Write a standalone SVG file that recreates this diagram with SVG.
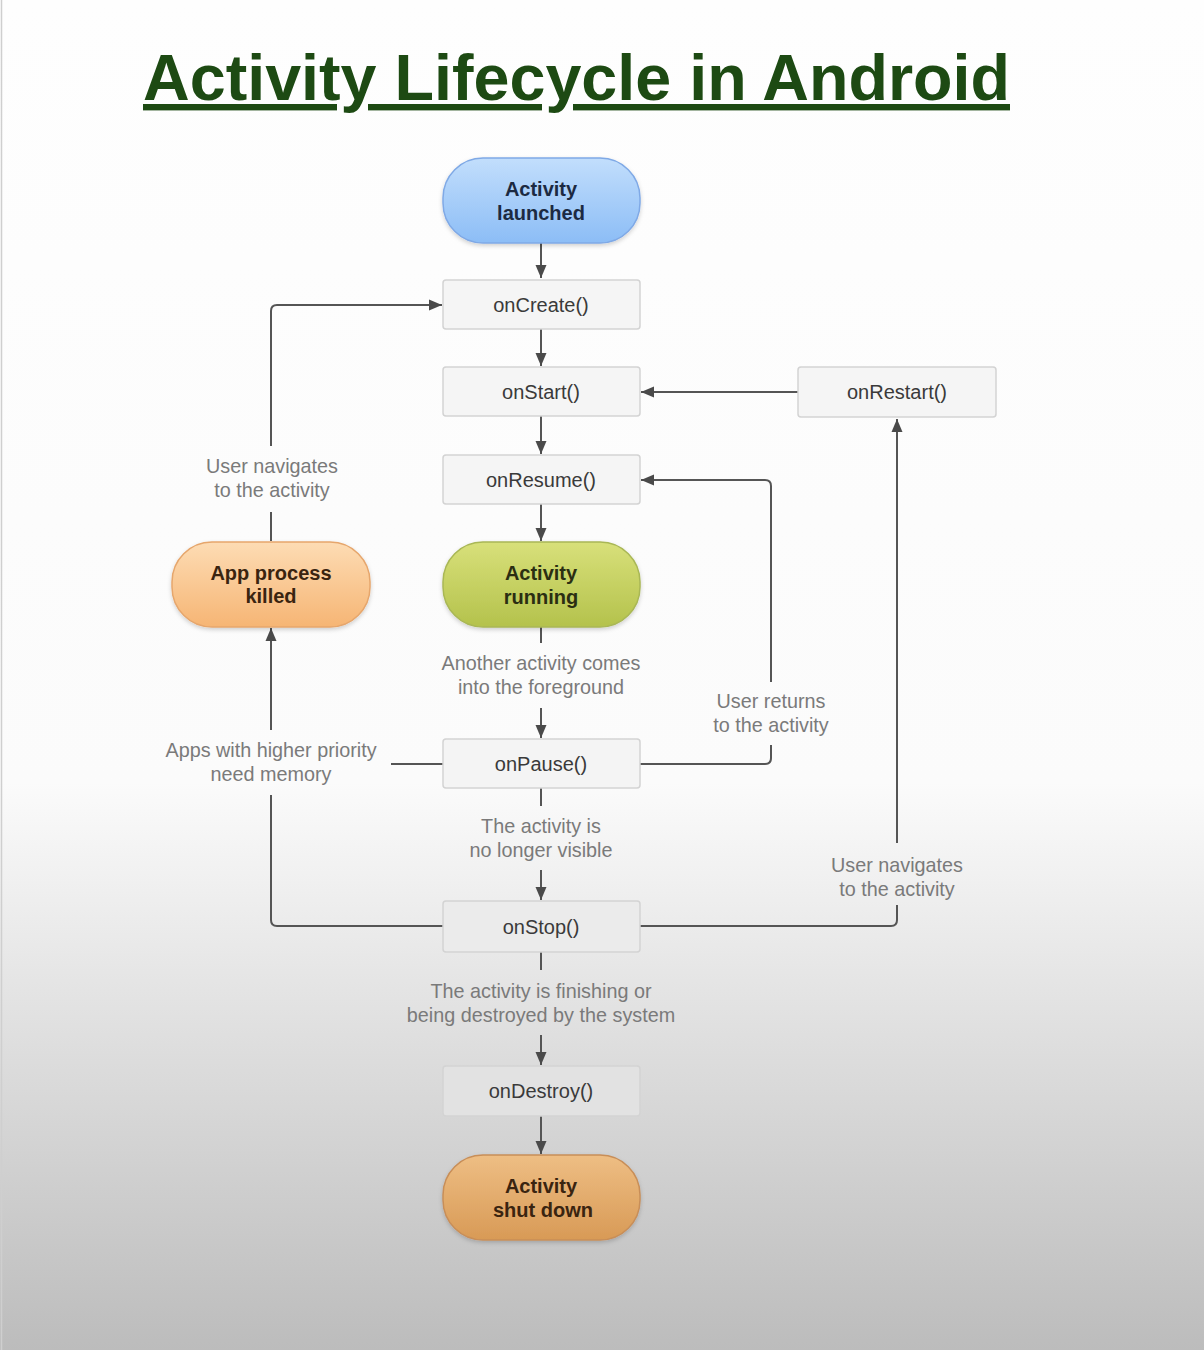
<svg xmlns="http://www.w3.org/2000/svg" width="1204" height="1350" viewBox="0 0 1204 1350">
  <defs>
    <linearGradient id="bg" x1="0" y1="0" x2="0" y2="1">
      <stop offset="0" stop-color="#fefefe"/>
      <stop offset="0.58" stop-color="#fbfbfb"/>
      <stop offset="0.8" stop-color="#dadada"/>
      <stop offset="1" stop-color="#bcbcbc"/>
    </linearGradient>
    <linearGradient id="gBlue" x1="0" y1="0" x2="0" y2="1">
      <stop offset="0" stop-color="#c2defc"/>
      <stop offset="1" stop-color="#8cbdf6"/>
    </linearGradient>
    <linearGradient id="gGreen" x1="0" y1="0" x2="0" y2="1">
      <stop offset="0" stop-color="#d8e07a"/>
      <stop offset="1" stop-color="#b4c24c"/>
    </linearGradient>
    <linearGradient id="gOrange" x1="0" y1="0" x2="0" y2="1">
      <stop offset="0" stop-color="#fddcb4"/>
      <stop offset="1" stop-color="#f6b574"/>
    </linearGradient>
    <linearGradient id="gBrown" x1="0" y1="0" x2="0" y2="1">
      <stop offset="0" stop-color="#eebe84"/>
      <stop offset="1" stop-color="#d89a56"/>
    </linearGradient>
    <filter id="shadow" x="-10%" y="-10%" width="120%" height="130%">
      <feDropShadow dx="0" dy="2" stdDeviation="2" flood-color="#000" flood-opacity="0.18"/>
    </filter>
    <marker id="arrow" markerUnits="userSpaceOnUse" markerWidth="13" markerHeight="12" refX="13" refY="6" orient="auto">
      <path d="M0,0.5 L13,6 L0,11.5 z" fill="#4a4a4a"/>
    </marker>
  </defs>
  <style>
    .title { font-family: "Liberation Sans", Arial, sans-serif; font-weight: bold; font-size: 64px; fill: #1d4a13; }
    .box { stroke: #d3d3d3; stroke-width: 1.5; }
    .mtext { font-family: "Liberation Sans", Arial, sans-serif; font-size: 20px; fill: #3a3a3a; text-anchor: middle; }
    .ptext { font-family: "Liberation Sans", Arial, sans-serif; font-size: 20px; font-weight: bold; text-anchor: middle; }
    .label { font-family: "Liberation Sans", Arial, sans-serif; font-size: 19.8px; fill: #7a7a7a; text-anchor: middle; }
    .conn { fill: none; stroke: #555; stroke-width: 2; }
  </style>

  <rect x="0" y="0" width="1204" height="1350" fill="url(#bg)"/>
  <line x1="1.5" y1="0" x2="1.5" y2="1350" stroke="#cfcfcf" stroke-width="1.5"/>

  <text class="title" x="143" y="100" text-decoration="underline" textLength="867" lengthAdjust="spacingAndGlyphs">Activity Lifecycle in Android</text>

  <g id="connectors">
    <path class="conn" d="M541,243 V278" marker-end="url(#arrow)"/>
    <path class="conn" d="M541,329 V366" marker-end="url(#arrow)"/>
    <path class="conn" d="M541,416 V454" marker-end="url(#arrow)"/>
    <path class="conn" d="M541,504 V541" marker-end="url(#arrow)"/>
    <path class="conn" d="M541,627 V643"/>
    <path class="conn" d="M541,708 V738" marker-end="url(#arrow)"/>
    <path class="conn" d="M541,788 V806"/>
    <path class="conn" d="M541,870 V900" marker-end="url(#arrow)"/>
    <path class="conn" d="M541,952 V970"/>
    <path class="conn" d="M541,1035 V1065" marker-end="url(#arrow)"/>
    <path class="conn" d="M541,1116 V1154" marker-end="url(#arrow)"/>
    <path class="conn" d="M798,392 H641" marker-end="url(#arrow)"/>
    <path class="conn" d="M640,764 H765 Q771,764 771,758 V745"/>
    <path class="conn" d="M771,682 V486 Q771,480 765,480 H641" marker-end="url(#arrow)"/>
    <path class="conn" d="M443,764 H391"/>
    <path class="conn" d="M271,730 V628" marker-end="url(#arrow)"/>
    <path class="conn" d="M271,795 V920 Q271,926 277,926 H443"/>
    <path class="conn" d="M271,541 V512"/>
    <path class="conn" d="M271,446 V311 Q271,305 277,305 H442" marker-end="url(#arrow)"/>
    <path class="conn" d="M640,926 H891 Q897,926 897,920 V905"/>
    <path class="conn" d="M897,843 V419" marker-end="url(#arrow)"/>
  </g>

  <g id="labels">
    <text class="label" x="272" y="473">User navigates</text>
    <text class="label" x="272" y="497">to the activity</text>
    <text class="label" x="541" y="670">Another activity comes</text>
    <text class="label" x="541" y="694">into the foreground</text>
    <text class="label" x="771" y="708">User returns</text>
    <text class="label" x="771" y="732">to the activity</text>
    <text class="label" x="271" y="757">Apps with higher priority</text>
    <text class="label" x="271" y="781">need memory</text>
    <text class="label" x="541" y="833">The activity is</text>
    <text class="label" x="541" y="857">no longer visible</text>
    <text class="label" x="897" y="872">User navigates</text>
    <text class="label" x="897" y="896">to the activity</text>
    <text class="label" x="541" y="998">The activity is finishing or</text>
    <text class="label" x="541" y="1022">being destroyed by the system</text>
  </g>

  <g id="activity-launched">
    <rect x="443" y="158" width="197" height="85" rx="40" ry="40" fill="url(#gBlue)" stroke="#7fa9e6" stroke-width="1.5" filter="url(#shadow)"/>
    <text class="ptext" x="541" y="196" fill="#1c2a42">Activity</text>
    <text class="ptext" x="541" y="220" fill="#1c2a42">launched</text>
  </g>
  <g id="onCreate">
    <rect class="box" x="443" y="280" width="197" height="49" rx="3" fill="#f5f5f5"/>
    <text class="mtext" x="541" y="312">onCreate()</text>
  </g>
  <g id="onStart">
    <rect class="box" x="443" y="367" width="197" height="49" rx="3" fill="#f5f5f5"/>
    <text class="mtext" x="541" y="399">onStart()</text>
  </g>
  <g id="onRestart">
    <rect class="box" x="798" y="367" width="198" height="50" rx="3" fill="#f5f5f5"/>
    <text class="mtext" x="897" y="399">onRestart()</text>
  </g>
  <g id="onResume">
    <rect class="box" x="443" y="455" width="197" height="49" rx="3" fill="#f5f5f5"/>
    <text class="mtext" x="541" y="487">onResume()</text>
  </g>
  <g id="activity-running">
    <rect x="443" y="542" width="197" height="85" rx="40" ry="40" fill="url(#gGreen)" stroke="#a9b755" stroke-width="1.5" filter="url(#shadow)"/>
    <text class="ptext" x="541" y="580" fill="#2b2e12">Activity</text>
    <text class="ptext" x="541" y="604" fill="#2b2e12">running</text>
  </g>
  <g id="app-process-killed">
    <rect x="172" y="542" width="198" height="85" rx="40" ry="40" fill="url(#gOrange)" stroke="#e6a66c" stroke-width="1.5" filter="url(#shadow)"/>
    <text class="ptext" x="271" y="580" fill="#3a2410">App process</text>
    <text class="ptext" x="271" y="603" fill="#3a2410">killed</text>
  </g>
  <g id="onPause">
    <rect class="box" x="443" y="739" width="197" height="49" rx="3" fill="#f4f4f4"/>
    <text class="mtext" x="541" y="771">onPause()</text>
  </g>
  <g id="onStop">
    <rect class="box" x="443" y="901" width="197" height="51" rx="3" fill="#ebebeb" stroke="#cacaca"/>
    <text class="mtext" x="541" y="934">onStop()</text>
  </g>
  <g id="onDestroy">
    <rect class="box" x="443" y="1066" width="197" height="50" rx="3" fill="#e2e2e2" stroke="#c4c4c4"/>
    <text class="mtext" x="541" y="1098">onDestroy()</text>
  </g>
  <g id="activity-shut-down">
    <rect x="443" y="1155" width="197" height="85" rx="40" ry="40" fill="url(#gBrown)" stroke="#c88e58" stroke-width="1.5" filter="url(#shadow)"/>
    <text class="ptext" x="541" y="1193" fill="#3a2410">Activity</text>
    <text class="ptext" x="543" y="1217" fill="#3a2410">shut down</text>
  </g>
</svg>
